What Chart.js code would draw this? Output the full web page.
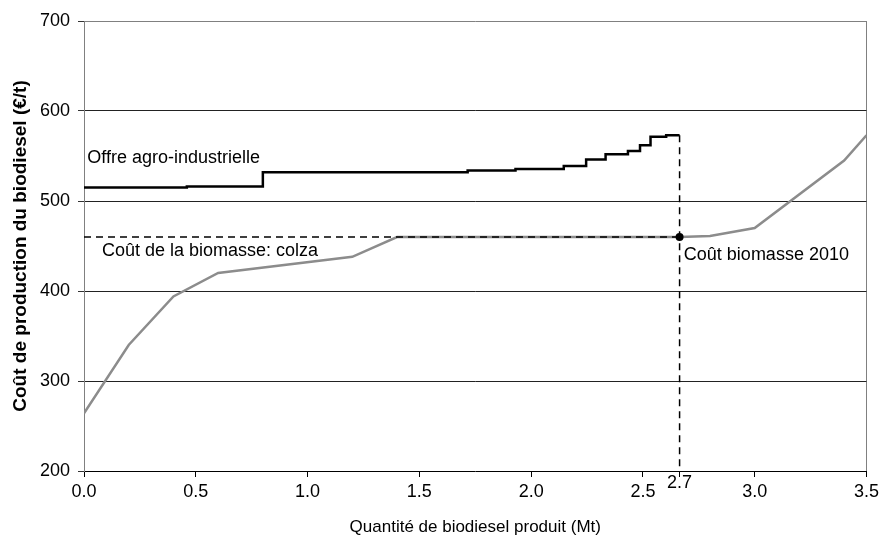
<!DOCTYPE html>
<html>
<head>
<meta charset="utf-8">
<script src="https://cdn.jsdelivr.net/npm/chart.js@4"></script>
<style>
  html, body { margin: 0; padding: 0; background: #fff; }
  #box { width: 883px; height: 536px; }
</style>
</head>
<body>
<div id="box"><canvas id="graphique"></canvas></div>
<script>
// Offre agro-industrielle (courbe en escalier)
const offreX = [0, 0.46, 0.80, 1.716, 1.93, 2.146, 2.246, 2.333, 2.433, 2.487, 2.534, 2.604, 2.664];
const offreY = [515, 516, 532, 534, 535.5, 539, 546, 552, 555.5, 562, 571.5, 573, 573];

// Coût de la biomasse (colza)
const biomasseX = [0, 0.2, 0.4, 0.6, 1.2, 1.4, 2.664, 2.8, 3.0, 3.4, 3.5];
const biomasseY = [264, 340, 394, 420, 438, 460, 460, 461, 470, 545, 573];

// Point 2010
const quantite2010 = 2.664;
const cout2010 = 460;
const offreMax2010 = 573;
const etiquette2010 = '2.7';

// Textes dans le graphique
const notesTexte = ['Offre agro-industrielle', 'Coût de la biomasse: colza', 'Coût biomasse 2010'];
const notesX = [0.015, 0.08, 2.683];
const notesY = [548, 444, 440];

const police = "'Liberation Sans', Arial, sans-serif";
Chart.defaults.color = '#000';
Chart.defaults.font.family = police;

const zip = (xs, ys) => xs.map((x, i) => ({ x: x, y: ys[i] }));

const notes = {
  id: 'notes',
  afterDatasetsDraw(chart) {
    const { ctx, scales: { x, y }, chartArea } = chart;
    ctx.save();
    ctx.fillStyle = '#000';
    ctx.font = '18px ' + police;
    ctx.textBaseline = 'middle';
    ctx.textAlign = 'left';
    notesTexte.forEach((t, i) => {
      ctx.fillText(t, x.getPixelForValue(notesX[i]), y.getPixelForValue(notesY[i]));
    });
    ctx.textAlign = 'center';
    ctx.fillText(etiquette2010, x.getPixelForValue(quantite2010), chartArea.bottom + 12);
    ctx.restore();
  }
};

new Chart(document.getElementById('graphique'), {
  type: 'line',
  data: {
    datasets: [
      {
        label: 'Coût biomasse 2010',
        data: [{ x: quantite2010, y: cout2010 }],
        showLine: false,
        pointRadius: 4,
        pointBackgroundColor: '#000',
        pointBorderWidth: 0,
        order: 1
      },
      {
        label: 'Niveau 2010',
        data: [{ x: 0, y: cout2010 }, { x: quantite2010, y: cout2010 }],
        borderColor: '#000',
        borderWidth: 1.5,
        borderDash: [7, 5],
        pointRadius: 0,
        order: 2
      },
      {
        label: 'Quantité 2010',
        data: [{ x: quantite2010, y: offreMax2010 }, { x: quantite2010, y: 200 }],
        borderColor: '#000',
        borderWidth: 1.5,
        borderDash: [7, 5],
        pointRadius: 0,
        order: 2
      },
      {
        label: 'Offre agro-industrielle',
        data: zip(offreX, offreY),
        stepped: 'before',
        borderColor: '#000',
        borderWidth: 2.5,
        pointRadius: 0,
        order: 3
      },
      {
        label: 'Coût de la biomasse: colza',
        data: zip(biomasseX, biomasseY),
        borderColor: '#8c8c8c',
        borderWidth: 2.5,
        pointRadius: 0,
        tension: 0,
        order: 4
      }
    ]
  },
  options: {
    responsive: true,
    maintainAspectRatio: false,
    animation: false,
    layout: { padding: { top: 21, right: 14, left: 0, bottom: 0 } },
    plugins: {
      legend: { display: false },
      tooltip: { enabled: false }
    },
    scales: {
      x: {
        type: 'linear',
        min: 0,
        max: 3.5,
        afterFit: s => { s.height = 65; },
        afterBuildTicks: s => {
          s.ticks.push({ value: quantite2010 });
          s.ticks.sort((a, b) => a.value - b.value);
        },
        ticks: {
          stepSize: 0.5,
          autoSkip: false,
          maxRotation: 0,
          padding: 4,
          font: { size: 18 },
          callback: v => (v === quantite2010 ? '' : Number(v).toFixed(1))
        },
        grid: {
          color: c => (c.tick && c.tick.value === 3.5 ? '#808080' : 'rgba(0,0,0,0)'),
          tickColor: '#000',
          tickLength: 6
        },
        border: { color: '#000', width: 1 },
        title: {
          display: true,
          text: 'Quantité de biodiesel produit (Mt)',
          font: { size: 17, lineHeight: 1 },
          padding: { top: 0, bottom: 0 }
        }
      },
      y: {
        min: 200,
        max: 700,
        afterFit: s => { s.width = 84; },
        ticks: {
          stepSize: 100,
          padding: 8,
          font: { size: 18 }
        },
        grid: {
          color: c => {
            if (!c.tick) return 'rgba(0,0,0,0)';
            if (c.tick.value === 700) return '#808080';
            if (c.tick.value === 200) return 'rgba(0,0,0,0)';
            return '#222';
          },
          tickColor: '#333',
          tickLength: 6
        },
        border: { color: '#808080', width: 1 },
        title: {
          display: true,
          text: 'Coût de production du biodiesel (€/t)',
          font: { size: 19, weight: 'bold', lineHeight: 1 },
          padding: { top: 11, bottom: 0 }
        }
      }
    }
  },
  plugins: [notes]
});
</script>
</body>
</html>
